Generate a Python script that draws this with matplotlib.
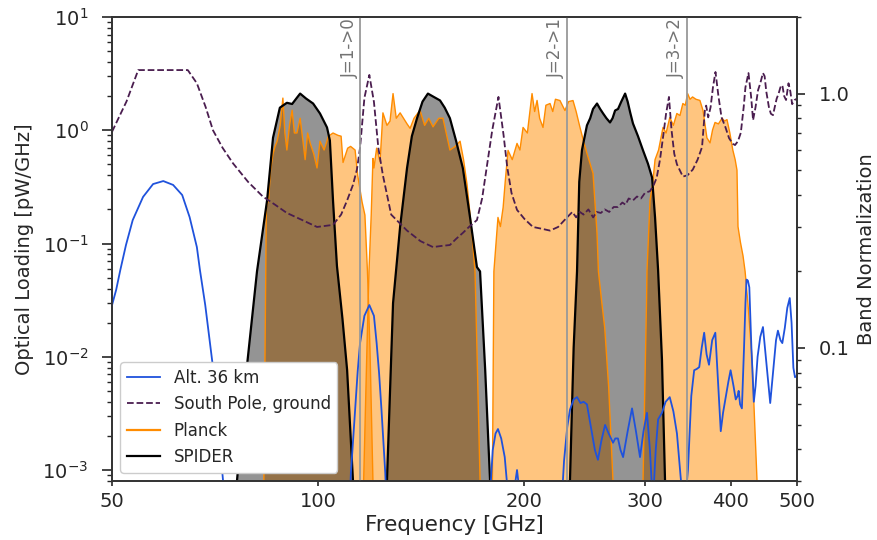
import numpy as np
import matplotlib.pyplot as plt
from matplotlib.ticker import FuncFormatter, NullFormatter, NullLocator
from matplotlib.lines import Line2D
import matplotlib.transforms as mtransforms

plt.rcParams['font.family'] = ['DejaVu Sans']
plt.rcParams['text.color'] = '0.15'
plt.rcParams['axes.labelcolor'] = '0.15'
plt.rcParams['xtick.color'] = '0.15'
plt.rcParams['ytick.color'] = '0.15'
plt.rcParams['axes.edgecolor'] = '0.2'

# Atmosfera: carga optica [pW/GHz]
alt_freq = [50.0, 50.7, 51.4, 52.4, 53.6, 55.5, 57.4, 59.4, 61.4, 63.3, 64.9, 66.5, 67.2, 68.4,
            69.5, 70.2, 71.4, 72.6, 73.3,
            110.5, 111.6, 113.2, 114.2, 115.1, 116.8, 118.75, 120.6, 121.7, 122.7, 123.7, 125.3, 126.5,
            177.0, 178.2, 179.8, 181.5, 183.0, 185.0, 187.2, 189.3, 191.0, 193.5, 195.1, 197.0,
            199.0, 205.0, 209.0, 212.0, 215.0, 224.0,
            225.5, 228.5, 231.0, 233.1, 236.0, 238.7, 241.5, 244.0, 246.8, 249.0, 251.0, 253.5,
            256.1, 259.0, 262.3, 265.5, 269.4, 271.5, 273.9, 276.3, 278.7, 283.0, 287.2, 291.0,
            295.0, 298.5, 302.0, 305.0, 308.0, 311.0, 313.5, 317.6, 321.5, 326.0, 330.0, 334.0,
            338.0, 341.0, 344.0, 346.6, 350.5, 353.9, 357.0, 360.0, 363.0, 366.0, 369.0, 372.0,
            376.0, 380.0, 383.5, 387.0, 390.0, 393.0, 397.0, 400.0, 404.0, 407.0, 409.5, 411.0,
            413.0, 415.5, 418.5, 420.5, 422.0, 424.0, 426.0, 429.0, 432.5, 435.0, 438.0, 442.0,
            446.0, 451.0, 457.0, 462.0, 466.0, 469.0, 473.0, 476.0, 480.0, 484.0, 488.0, 491.0,
            494.0, 496.7, 500.0]
alt_load = [0.0286, 0.039, 0.058, 0.097, 0.161, 0.258, 0.335, 0.356, 0.329, 0.268, 0.171, 0.093, 0.058, 0.0286,
            0.0132, 0.0081, 0.0025, 0.00082, 0.0003,
            0.0002, 0.00093, 0.0034, 0.0075, 0.0132, 0.023, 0.0286, 0.023, 0.0132, 0.0072, 0.0034, 0.00093, 0.0002,
            0.0002, 0.0006, 0.0015, 0.0021, 0.0023, 0.0019, 0.0013, 0.0006, 0.0003, 0.0007, 0.0010, 0.0006,
            0.0002, 0.0002, 0.00075, 0.0008, 0.0002, 0.0002,
            0.0003, 0.0012, 0.0024, 0.0034, 0.0042, 0.0044, 0.0039, 0.0040, 0.0038, 0.0028, 0.0021, 0.0015,
            0.00123, 0.0018, 0.0025, 0.0021, 0.00174, 0.0019, 0.0019, 0.0015, 0.0013, 0.0022, 0.0035, 0.0022,
            0.0013, 0.0022, 0.0032, 0.0015, 0.0005, 0.0015, 0.0028, 0.0032, 0.0040, 0.0044, 0.0033, 0.0021,
            0.0009, 0.0005, 0.0006, 0.0010, 0.0045, 0.0076, 0.0078, 0.0081, 0.0120, 0.0163, 0.0105, 0.0085,
            0.0140, 0.0163, 0.0060, 0.0022, 0.0032, 0.0042, 0.0060, 0.0076, 0.0055, 0.0042, 0.0045, 0.0050,
            0.0038, 0.0035, 0.012, 0.030, 0.048, 0.047, 0.041, 0.012, 0.0040, 0.0055, 0.010, 0.015,
            0.0183, 0.009, 0.0039, 0.008, 0.014, 0.017, 0.014, 0.0132, 0.018, 0.027, 0.033, 0.020,
            0.008, 0.0066, 0.0068]

pole_freq = [50.0, 52.5, 54.6, 60.0, 64.5, 66.5, 68.5, 70.2, 72.5, 75.1, 79.0, 83.0, 86.5, 90.0,
             95.0, 99.6, 105.1, 108.0, 110.2, 112.4, 113.9, 115.1, 116.8, 118.75, 120.6, 122.4,
             124.3, 127.8, 134.8, 141.0, 147.1, 151.0, 155.7, 159.0, 162.6, 166.0, 170.5, 173.5,
             176.2, 179.5, 183.3, 186.5, 188.8, 191.5, 195.1, 200.0, 205.8, 212.0, 218.0, 224.0,
             231.0, 235.0, 238.0, 241.0, 244.0, 248.0, 252.0, 255.0, 258.6, 262.0, 266.0, 270.0,
             273.9, 278.0, 281.0, 284.0, 288.1, 292.0, 296.0, 300.0, 305.1, 309.0, 312.0, 315.5,
             319.0, 322.0, 325.15, 328.0, 331.0, 334.0, 340.7, 346.0, 352.3, 358.0, 363.4, 366.9,
             368.5, 371.0, 374.0, 377.0, 380.2, 384.0, 388.0, 393.0, 398.0, 403.0, 406.0, 410.0,
             414.0, 418.0, 420.5, 424.8, 428.5, 431.4, 435.0, 438.7, 442.0, 446.0, 448.5, 451.0,
             455.0, 458.0, 461.3, 464.0, 467.0, 470.0, 473.0, 476.0, 479.0, 482.0, 486.0, 489.0,
             492.0, 496.0, 500.0]
pole_load = [0.97, 1.8, 3.4, 3.4, 3.4, 2.6, 1.6, 1.0, 0.7, 0.51, 0.35, 0.26, 0.22, 0.186,
             0.16, 0.14, 0.146, 0.18, 0.24, 0.33, 0.45, 0.70, 1.93, 3.08, 1.78, 0.70,
             0.40, 0.18, 0.13, 0.105, 0.093, 0.095, 0.097, 0.11, 0.124, 0.14, 0.161, 0.25,
             0.47, 1.0, 1.97, 0.9, 0.47, 0.28, 0.198, 0.165, 0.14, 0.135, 0.13, 0.14,
             0.171, 0.19, 0.17, 0.19, 0.18, 0.2, 0.17, 0.19, 0.186, 0.2, 0.19, 0.21,
             0.21, 0.23, 0.22, 0.25, 0.24, 0.26, 0.25, 0.28, 0.29, 0.33, 0.38, 0.55,
             0.9, 1.4, 1.97, 1.0, 0.62, 0.5, 0.39, 0.4, 0.45, 0.55, 0.71, 1.5,
             1.65, 1.3, 1.6, 2.4, 3.27, 2.0, 1.3, 1.07, 0.85, 0.76, 0.74, 0.8,
             0.95, 1.6, 2.4, 3.2, 2.0, 1.23, 1.6, 2.26, 2.6, 3.2, 3.0, 2.2,
             1.6, 1.4, 1.36, 1.6, 1.9, 2.1, 2.4, 2.5, 2.0, 1.85, 2.6, 2.2,
             1.7, 1.85, 1.9]

# Bandas Planck (normalizadas)
p100_freq = [82.8, 83.3, 84.0, 84.6, 85.2, 85.9, 86.5, 87.1, 88.0, 88.8, 89.4, 90.0, 90.8, 91.6,
             92.3, 93.1, 94.1, 95.0, 95.7, 96.5, 97.3, 98.5, 99.6, 100.6, 102.0, 103.5, 105.1,
             106.9, 108.0, 108.7, 110.4, 111.5, 113.2, 114.2, 115.9, 117.0, 118.0, 119.0, 120.2, 121.0]
p100_resp = [0.01, 0.03, 0.36, 0.38, 0.5, 0.58, 0.62, 0.65, 0.75, 0.96, 0.7, 0.6, 0.75, 0.86,
             0.7, 0.7, 0.8, 0.65, 0.55, 0.7, 0.64, 0.58, 0.51, 0.65, 0.6, 0.68, 0.7,
             0.685, 0.68, 0.536, 0.61, 0.62, 0.6, 0.477, 0.374, 0.333, 0.2, 0.1, 0.03, 0.01]

p143_freq = [115.5, 116.5, 117.8, 118.6, 119.5, 120.2, 120.6, 121.7, 123.1, 124.3, 126.0, 127.3,
             128.6, 130.0, 131.7, 134.8, 136.2, 138.0, 140.8, 143.0, 145.0, 147.1, 150.0, 152.1,
             155.7, 158.5, 161.1, 163.0, 164.9, 167.7, 169.4, 170.5, 172.3, 173.0]
p143_resp = [0.01, 0.03, 0.1, 0.2, 0.333, 0.556, 0.51, 0.61, 0.54, 0.84, 0.75, 0.78,
             1.0, 0.8, 0.84, 0.76, 0.73, 0.8, 0.86, 0.75, 0.8, 0.74, 0.8, 0.8,
             0.6, 0.62, 0.65, 0.55, 0.44, 0.28, 0.2, 0.1, 0.03, 0.01]

p217_freq = [179.0, 179.6, 180.5, 183.0, 184.5, 186.2, 187.5, 189.3, 192.0, 195.1, 197.0, 199.1,
             202.0, 205.2, 207.0, 208.7, 210.5, 212.9, 215.0, 218.0, 220.0, 222.0, 225.4, 229.2,
             232.0, 235.5, 238.0, 241.1, 244.0, 246.8, 251.9, 255.3, 256.5, 259.5, 262.0, 265.5,
             269.4, 271.0]
p217_resp = [0.01, 0.03, 0.2, 0.326, 0.3, 0.357, 0.45, 0.598, 0.55, 0.637, 0.6, 0.736,
             0.7, 1.0, 0.85, 0.94, 0.8, 0.736, 0.9, 0.914, 0.85, 0.95, 0.939, 0.858,
             0.93, 0.939, 0.85, 0.736, 0.65, 0.582, 0.486, 0.283, 0.2, 0.15, 0.12, 0.07,
             0.03, 0.01]

p353_freq = [297.0, 298.0, 301.5, 302.0, 305.1, 308.0, 310.3, 314.0, 318.7, 322.0, 326.1, 330.0,
             333.9, 337.4, 340.7, 343.5, 346.2, 349.0, 352.0, 356.0, 360.8, 364.6, 369.4, 373.3,
             376.5, 379.6, 384.0, 388.7, 392.0, 395.2, 399.0, 403.0, 406.2, 408.7, 410.1, 413.5,
             417.1, 420.0, 424.0, 430.0, 437.2, 439.0]
p353_resp = [0.01, 0.03, 0.15, 0.2, 0.38, 0.45, 0.55, 0.6, 0.736, 0.7, 0.805, 0.75,
             0.835, 0.82, 0.914, 0.9, 1.0, 0.95, 0.97, 0.95, 0.94, 0.858, 0.67, 0.64,
             0.72, 0.77, 0.76, 0.8, 0.78, 0.79, 0.7, 0.6, 0.55, 0.5, 0.3, 0.26,
             0.23, 0.2, 0.15, 0.09, 0.03, 0.01]

# Bandas SPIDER
s95_freq = [75.5, 76.1, 78.7, 81.4, 84.2, 85.9, 87.9, 90.0, 91.6, 93.0, 94.1, 96.0, 98.3,
            100.6, 103.0, 104.0, 105.1, 106.5, 108.5, 110.2, 112.4, 113.5]
s95_resp = [0.01, 0.03, 0.085, 0.2, 0.38, 0.67, 0.88, 0.92, 0.91, 0.96, 1.0, 0.956, 0.914,
            0.835, 0.736, 0.654, 0.38, 0.21, 0.13, 0.082, 0.03, 0.01]

s150_freq = [124.5, 126.0, 128.6, 131.7, 134.8, 137.0, 139.4, 142.0, 144.6, 147.5, 150.6, 153.0,
             155.7, 159.0, 162.6, 166.6, 170.5, 172.3, 175.3, 178.2, 179.5]
s150_resp = [0.01, 0.03, 0.15, 0.30, 0.51, 0.68, 0.80, 0.93, 1.0, 0.97, 0.94, 0.88,
             0.8, 0.65, 0.51, 0.326, 0.208, 0.2, 0.082, 0.03, 0.01]

s280_freq = [231.5, 233.1, 236.0, 238.7, 240.5, 242.7, 246.8, 249.5, 251.9, 255.3, 258.0, 260.6,
             263.5, 266.7, 269.0, 271.3, 274.0, 277.0, 280.6, 283.0, 285.5, 288.1, 293.0, 298.0,
             303.0, 307.2, 310.3, 313.5, 317.6, 320.9, 322.5]
s280_resp = [0.01, 0.03, 0.1, 0.2, 0.45, 0.6, 0.75, 0.8, 0.87, 0.914, 0.87, 0.835,
             0.8, 0.77, 0.8, 0.858, 0.87, 0.93, 1.0, 0.93, 0.84, 0.763, 0.68, 0.598,
             0.53, 0.468, 0.326, 0.202, 0.09, 0.03, 0.01]

# Linhas de CO
co_freq = [115.27, 230.54, 345.80]
co_labels = ['J=1->0', 'J=2->1', 'J=3->2']

xticks = [50, 100, 200, 300, 400, 500]

planck_bands = [(p100_freq, p100_resp), (p143_freq, p143_resp),
                (p217_freq, p217_resp), (p353_freq, p353_resp)]
spider_bands = [(s95_freq, s95_resp), (s150_freq, s150_resp), (s280_freq, s280_resp)]

fig = plt.figure(figsize=(8.78, 5.4), dpi=100)
ax = fig.add_axes([0.1276, 0.1093, 0.7801, 0.8592])
ax2 = ax.twinx()
ax.set_zorder(ax2.get_zorder() + 1)
ax.patch.set_visible(False)

# bandas no eixo da direita
for f, r in planck_bands:
    ax2.fill_between(f, 1e-3, r, color='darkorange', alpha=0.5, lw=0)
for f, r in spider_bands:
    ax2.fill_between(f, 1e-3, r, color='k', alpha=0.42, lw=0)
for f, r in planck_bands:
    ax2.plot(f, r, color='darkorange', lw=1.0)
for f, r in spider_bands:
    ax2.plot(f, r, color='k', lw=1.6)

# atmosfera no eixo da esquerda
ax.plot(alt_freq, alt_load, color='#1f52dc', lw=1.3)
ax.plot(pole_freq, pole_load, color='#4a1d4f', lw=1.3, ls='--')

trans = mtransforms.blended_transform_factory(ax.transData, ax.transAxes)
for f, lab in zip(co_freq, co_labels):
    ax.axvline(f, color='0.6', lw=1.3)
    ax.annotate(lab, xy=(f, 1.0), xycoords=trans, xytext=(-1.5, -1), textcoords='offset points',
                rotation=90, ha='right', va='top', color='0.45', fontsize=12)

ax.set_xscale('log')
ax.set_yscale('log')
ax2.set_yscale('log')
ax.set_xlim(50, 500)
ax.set_ylim(8e-4, 10)
ax2.set_ylim(0.03, 2)

ax.set_xticks(xticks)
ax.set_xticklabels([str(t) for t in xticks])
ax.xaxis.set_minor_locator(NullLocator())
ax2.yaxis.set_major_formatter(FuncFormatter(lambda v, p: f'{v:.1f}'))
ax2.yaxis.set_minor_formatter(NullFormatter())

ax.tick_params(axis='x', which='major', labelsize=14, length=3.3, width=1.2, pad=4.5)
ax.tick_params(axis='y', which='major', labelsize=14, length=7, width=1.2, pad=10)
ax.tick_params(axis='y', which='minor', length=3.5, width=1.0)
ax2.tick_params(axis='y', which='major', labelsize=14, length=6, width=1.2, pad=10)
ax2.tick_params(axis='y', which='minor', length=3, width=1.0)
for a in (ax, ax2):
    for s in a.spines.values():
        s.set_linewidth(1.25)

ax.set_xlabel('Frequency [GHz]', fontsize=15.5, labelpad=3)
ax.set_ylabel('Optical Loading [pW/GHz]', fontsize=14, labelpad=6)
ax2.set_ylabel('Band Normalization', fontsize=14, labelpad=5)

handles = [Line2D([], [], color='#1f52dc', lw=1.3),
           Line2D([], [], color='#4a1d4f', lw=1.3, ls='--'),
           Line2D([], [], color='darkorange', lw=1.6),
           Line2D([], [], color='k', lw=1.6)]
ax.legend(handles, ['Alt. 36 km', 'South Pole, ground', 'Planck', 'SPIDER'],
          loc='lower left', fontsize=12, framealpha=1, edgecolor='0.8')

fig.savefig('out.png', dpi=100)
